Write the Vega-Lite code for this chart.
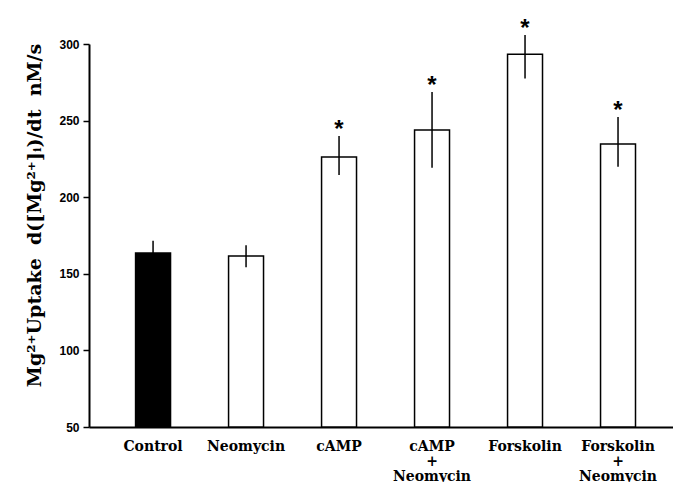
{
  "$schema": "https://vega.github.io/schema/vega-lite/v6.json",
  "autosize": "none",
  "padding": {"left": 89, "top": 44, "right": 0, "bottom": 55},
  "width": 584,
  "height": 383,
  "background": "white",
  "data": {
    "values": [
      {"group": "Control", "value": 163.6, "low": 155.6, "high": 171.6, "star": "", "filled": "yes"},
      {"group": "Neomycin", "value": 161.6, "low": 154.2, "high": 168.6, "star": "", "filled": "no"},
      {"group": "cAMP", "value": 226.2, "low": 214.5, "high": 240.0, "star": "*", "filled": "no"},
      {"group": "cAMP|+|Neomycin", "value": 243.9, "low": 219.3, "high": 268.7, "star": "*", "filled": "no"},
      {"group": "Forskolin", "value": 293.3, "low": 277.4, "high": 305.9, "star": "*", "filled": "no"},
      {"group": "Forskolin|+|Neomycin", "value": 234.7, "low": 219.9, "high": 252.4, "star": "*", "filled": "no"}
    ]
  },
  "encoding": {
    "x": {
      "field": "group",
      "type": "nominal",
      "sort": null,
      "scale": {"paddingInner": 0.624, "paddingOuter": 0.452, "align": 0.554},
      "axis": {
        "title": null,
        "labelAngle": 0,
        "labelExpr": "split(datum.label, '|')",
        "labelFont": "DejaVu Serif",
        "labelFontWeight": "bold",
        "labelFontSize": 14,
        "labelColor": "black",
        "labelPadding": 12,
        "labelLineHeight": 15,
        "labelBaseline": "top",
        "labelOverlap": false,
        "labelBound": false,
        "ticks": false,
        "domainColor": "black",
        "domainWidth": 2,
        "grid": false
      }
    }
  },
  "layer": [
    {
      "mark": {"type": "bar", "stroke": "black", "strokeWidth": 1.5},
      "encoding": {
        "y": {
          "field": "value",
          "type": "quantitative",
          "scale": {"domain": [50, 300], "nice": false, "zero": false},
          "axis": {
            "values": [50, 100, 150, 200, 250, 300],
            "title": "Mg²⁺Uptake\u00a0\u00a0d([Mg²⁺]ᵢ)/dt\u00a0\u00a0nM/s",
            "titleFont": "DejaVu Serif",
            "titleFontWeight": "bold",
            "titleFontSize": 19,
            "titleColor": "black",
            "titleX": -55,
            "titleY": 171,
            "titleAngle": -90,
            "titleBaseline": "middle",
            "titleAlign": "center",
            "labelFont": "Liberation Sans",
            "labelFontWeight": "bold",
            "labelFontSize": 12,
            "labelColor": "black",
            "labelPadding": 4,
            "tickColor": "black",
            "tickSize": 6,
            "tickWidth": 1.5,
            "domainColor": "black",
            "domainWidth": 2,
            "grid": false
          }
        },
        "y2": {"datum": 50},
        "fill": {
          "field": "filled",
          "type": "nominal",
          "scale": {"domain": ["yes", "no"], "range": ["black", "white"]},
          "legend": null
        }
      }
    },
    {
      "mark": {"type": "rule", "color": "black", "strokeWidth": 1.5},
      "encoding": {
        "y": {"field": "low", "type": "quantitative"},
        "y2": {"field": "high"}
      }
    },
    {
      "mark": {"type": "text", "font": "Liberation Sans", "fontWeight": "bold", "fontSize": 24, "baseline": "middle", "dy": -6, "color": "black"},
      "encoding": {
        "y": {"field": "high", "type": "quantitative"},
        "text": {"field": "star"}
      }
    }
  ],
  "config": {"view": {"stroke": null}}
}
